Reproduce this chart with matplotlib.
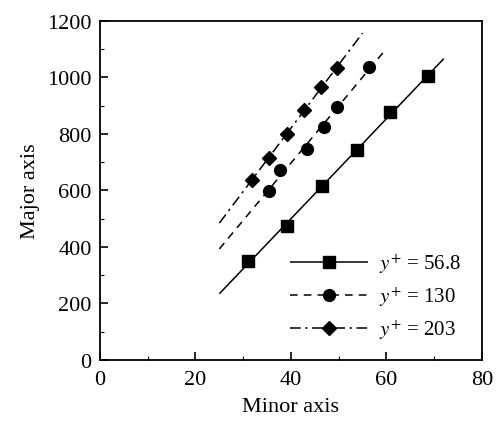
import numpy as np
import matplotlib
matplotlib.use('Agg')
import matplotlib.pyplot as plt
from matplotlib.ticker import MultipleLocator

plt.rcParams['font.family'] = 'Liberation Serif'
plt.rcParams['mathtext.fontset'] = 'stix'

# data
minor_568 = [31.1, 39.1, 46.6, 53.8, 60.7, 68.8]
major_568 = [349, 473, 617, 744, 877, 1004]
minor_130 = [35.5, 37.6, 43.3, 47.0, 49.6, 56.4]
major_130 = [599, 673, 747, 826, 895, 1038]
minor_203 = [31.8, 35.4, 39.1, 42.8, 46.3, 49.6]
major_203 = [638, 716, 800, 885, 965, 1034]

# x-range of each fitted line
fit_range_568 = [25, 72]
fit_range_130 = [25, 60]
fit_range_203 = [25, 55]

labels = [r'$y^{+}$ = 56.8', r'$y^{+}$ = 130', r'$y^{+}$ = 203']

fig = plt.figure(figsize=(5.01, 4.27), dpi=100)
ax = fig.add_axes([0.1996, 0.1546, 0.7624, 0.794])

styles = [('s', (0, ()), 8.0),
          ('o', (0, (5, 4)), 8.5),
          ('D', (0, (7, 3, 1.5, 3)), 7.5)]
series = [(minor_568, major_568, fit_range_568),
          (minor_130, major_130, fit_range_130),
          (minor_203, major_203, fit_range_203)]

for (xd, yd, xr), (mk, ls, ms), lab in zip(series, styles, labels):
    coeffs = np.polyfit(xd, yd, 1)
    xl = np.array(xr)
    yl = np.polyval(coeffs, xl)
    ax.plot(xl, yl, color='k', ls=ls, lw=1.1)
    ax.plot(xd, yd, color='k', ls='none', marker=mk, ms=ms)
    ax.plot([], [], color='k', ls=ls, lw=1.1, marker=mk, ms=ms, label=lab)

ax.set_xlim(0, 80)
ax.set_ylim(0, 1200)
ax.xaxis.set_major_locator(MultipleLocator(20))
ax.xaxis.set_minor_locator(MultipleLocator(10))
ax.yaxis.set_major_locator(MultipleLocator(200))
ax.yaxis.set_minor_locator(MultipleLocator(100))
ax.tick_params(which='both', direction='in', labelsize=16)
ax.tick_params(which='major', length=6, width=1.2)
ax.tick_params(which='minor', length=3, width=0.8)
ax.tick_params(axis='y', pad=6)
ax.tick_params(axis='x', pad=7)
for s in ax.spines.values():
    s.set_linewidth(1.3)

ax.set_xlabel('Minor axis', fontsize=16, labelpad=6)
ax.set_ylabel('Major axis', fontsize=16, labelpad=5)

ax.legend(loc='upper left', bbox_to_anchor=(0.497, 0.32), frameon=False,
          handlelength=3.75, fontsize=15, labelspacing=0.45,
          handletextpad=0.55, borderaxespad=0.0, borderpad=0.0)

fig.savefig('out.png', dpi=100)
